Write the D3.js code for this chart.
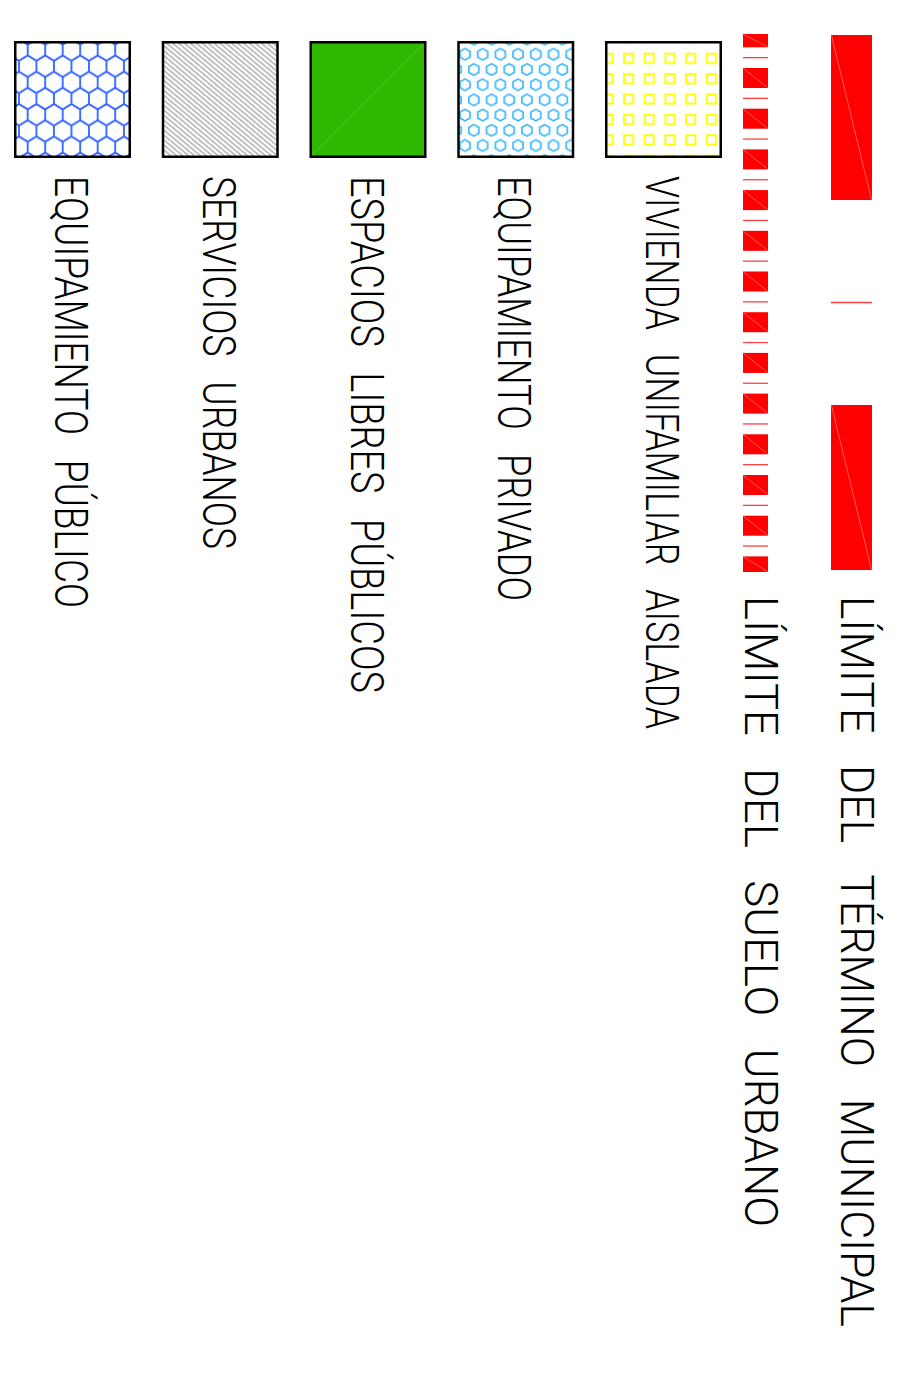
<!DOCTYPE html>
<html><head><meta charset="utf-8">
<script src="https://cdn.jsdelivr.net/npm/d3@7"></script>
<style>html,body{margin:0;padding:0;background:#fff;} svg{display:block}</style>
</head><body>
<svg id="c" width="909" height="1389"></svg>
<script>
// ---- legend content ----
const lineLabels = ["LÍMITE DEL TÉRMINO MUNICIPAL", "LÍMITE DEL SUELO URBANO"];
const lineStyles = ["bar-dash-long", "bar-dash-short"];
const swatchLabels = ["VIVIENDA UNIFAMILIAR AISLADA", "EQUIPAMIENTO PRIVADO", "ESPACIOS LIBRES PÚBLICOS", "SERVICIOS URBANOS", "EQUIPAMIENTO PÚBLICO"];
const swatchFills = ["squares", "hexdots", "green", "hatch", "honeycomb"];

// ---- layout (screen is the legend rotated 90° clockwise) ----
const W = 909, H = 1389;
const svg = d3.select("#c");
const defs = svg.append("defs");

const lineLayout = {
  "bar-dash-long":  {cx: 851.5, width: 41, y0: 35, y1: 570, dash: 165, gap: 205, phase: 0, textX: 841, textY: 596, textLen: 731, ws: 22},
  "bar-dash-short": {cx: 755.5, width: 25, y0: 34, y1: 572, dash: 20, gap: 20.7, phase: -6.7, textX: 745, textY: 596, textLen: 631, ws: 22}
};
const swatchX = d3.scaleLinear().domain([0, swatchLabels.length - 1]).range([605, 14]);
const swatchSize = 117, swatchTop = 41;
const swatchTextLen = [553, 425, 517, 373, 432];
const fontSize = 47;
const fontFamily = "Roboto, Liberation Sans, Arial, sans-serif";
const fontWeight = 300;

// ---- patterns ----
function hexPath(cx, cy, hw, R) {
  const p = [[cx, cy - R], [cx + hw, cy - R / 2], [cx + hw, cy + R / 2], [cx, cy + R], [cx - hw, cy + R / 2], [cx - hw, cy - R / 2]];
  return "M" + p.map(d => d.join(",")).join("L") + "Z";
}
// yellow squares
{
  const p = defs.append("pattern").attr("id", "squares").attr("patternUnits", "userSpaceOnUse")
    .attr("x", 602.3).attr("y", 32.3).attr("width", 20.7).attr("height", 20.4);
  p.append("rect").attr("x", 1).attr("y", 1).attr("width", 9.2).attr("height", 9.2)
    .attr("fill", "none").attr("stroke", "#ffff00").attr("stroke-width", 1.9);
}
// cyan hexagons
{
  const pw = 17.7, ph = 30.4;
  const p = defs.append("pattern").attr("id", "hexdots").attr("patternUnits", "userSpaceOnUse")
    .attr("x", 465).attr("y", 54.3).attr("width", pw).attr("height", ph);
  [[0, 0], [pw, 0], [pw / 2, ph / 2], [0, ph], [pw, ph]].forEach(([x, y]) =>
    p.append("path").attr("d", hexPath(x, y, 5, 5.8)).attr("fill", "none")
      .attr("stroke", "#30b4ff").attr("stroke-width", 1.6));
}
// gray hatch
{
  const p = defs.append("pattern").attr("id", "hatch").attr("patternUnits", "userSpaceOnUse")
    .attr("width", 10).attr("height", 3.8).attr("patternTransform", "rotate(40)");
  p.append("line").attr("x1", 0).attr("x2", 10).attr("y1", 1.9).attr("y2", 1.9)
    .attr("stroke", "#a8a8a8").attr("stroke-width", 1.4);
}
// blue honeycomb
{
  const pw = 17.5, rp = 16.2, R = rp * 2 / 3;
  const p = defs.append("pattern").attr("id", "honeycomb").attr("patternUnits", "userSpaceOnUse")
    .attr("x", 36.45).attr("y", 50).attr("width", pw).attr("height", rp * 2);
  [[0, 0], [pw, 0], [pw / 2, rp], [-pw / 2, rp], [pw * 1.5, rp], [0, 2 * rp], [pw, 2 * rp]].forEach(([x, y]) =>
    p.append("path").attr("d", hexPath(x, y, pw / 2, R)).attr("fill", "none")
      .attr("stroke", "#3366ff").attr("stroke-width", 1.5));
}

function addLabel(baseX, startY, len, ws, txt) {
  svg.append("g").attr("transform", `translate(${baseX},0) rotate(90)`)
    .append("text").attr("x", startY).attr("y", 0)
    .attr("font-family", fontFamily).attr("font-weight", fontWeight).attr("font-size", fontSize)
    .style("word-spacing", ws + "px")
    .attr("textLength", len).attr("lengthAdjust", "spacingAndGlyphs")
    .attr("fill", "#000").text(txt);
}

// ---- line symbols ----
lineStyles.forEach((s, i) => {
  const L = lineLayout[s];
  const period = L.dash + L.gap;
  const ks = d3.range(-1, Math.ceil((L.y1 - L.y0) / period) + 1);
  const segs = ks.map(k => {
    const a = L.y0 + L.phase + k * period;
    return {a: Math.max(a, L.y0), b: Math.min(a + L.dash, L.y1), mid: a + L.dash + L.gap / 2};
  });
  const g = svg.append("g");
  const x0 = L.cx - L.width / 2, x1 = L.cx + L.width / 2;
  const bars = segs.filter(d => d.b > d.a);
  g.selectAll("rect.bar").data(bars).join("rect").attr("class", "bar")
    .attr("x", x0).attr("width", L.width).attr("y", d => d.a).attr("height", d => d.b - d.a)
    .attr("fill", "#ff0000");
  g.selectAll("line.diag").data(bars).join("line").attr("class", "diag")
    .attr("x1", x0 + 0.5).attr("x2", x1 - 0.5).attr("y1", d => d.a + 0.5).attr("y2", d => d.b - 0.5)
    .attr("stroke", "#ff8080").attr("stroke-width", 0.7);
  g.selectAll("line.tick").data(segs.filter(d => d.mid > L.y0 && d.mid < L.y1)).join("line").attr("class", "tick")
    .attr("x1", x0).attr("x2", x1).attr("y1", d => d.mid).attr("y2", d => d.mid)
    .attr("stroke", "#ff4040").attr("stroke-width", 1.3);
  addLabel(L.textX, L.textY, L.textLen, L.ws, lineLabels[i]);
});

// ---- swatches ----
swatchLabels.forEach((lab, i) => {
  const x = swatchX(i);
  const f = swatchFills[i];
  const g = svg.append("g");
  const inner = {x: x + 1.25, y: swatchTop + 1.25, w: swatchSize - 2.5, h: swatchSize - 2.5};
  g.append("rect").attr("x", inner.x).attr("y", inner.y).attr("width", inner.w).attr("height", inner.h)
    .attr("fill", f === "green" ? "#30b800" : `url(#${f})`);
  if (f === "green") {
    g.append("line").attr("x1", inner.x + 1).attr("y1", inner.y + inner.h - 1)
      .attr("x2", inner.x + inner.w - 1).attr("y2", inner.y + 1)
      .attr("stroke", "#5ccf40").attr("stroke-width", 0.8);
  }
  g.append("rect").attr("x", inner.x).attr("y", inner.y).attr("width", inner.w).attr("height", inner.h)
    .attr("fill", "none").attr("stroke", "#000").attr("stroke-width", 2.5);
  addLabel(x + 41, 176, swatchTextLen[i], 20, lab);
});
</script>
</body></html>
